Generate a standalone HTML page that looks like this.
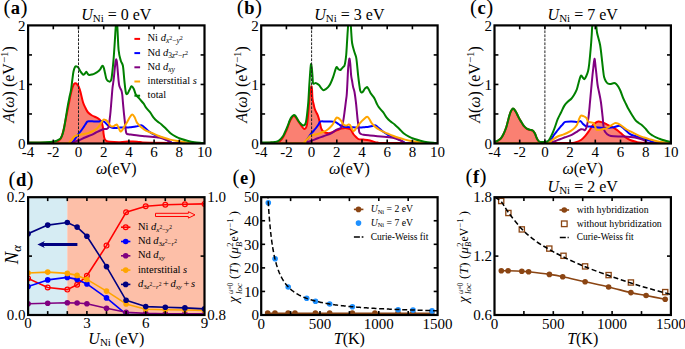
<!DOCTYPE html>
<html><head><meta charset="utf-8"><title>figure</title>
<style>html,body{margin:0;padding:0;background:#fff;}svg{display:block;}text{font-family:"Liberation Serif",serif;fill:#000;}</style>
</head><body>
<svg width="685" height="349" viewBox="0 0 685 349" font-family="Liberation Serif">
<rect width="685" height="349" fill="#fff"/>
<clipPath id="ct0"><rect x="28.1" y="25.4" width="176.4" height="118.1"/></clipPath>
<g clip-path="url(#ct0)">
<path d="M28.5,142.8 C30.42,142.78 36.42,142.77 40,142.7 C43.58,142.63 47.33,142.55 50,142.4 C52.67,142.25 54.5,142.12 56,141.8 C57.5,141.48 58.17,141.13 59,140.5 C59.83,139.87 60.33,139.42 61,138 C61.67,136.58 62.33,134.5 63,132 C63.67,129.5 64.33,126.17 65,123 C65.67,119.83 66.33,116.33 67,113 C67.67,109.67 68.33,106.33 69,103 C69.67,99.67 70.42,95.58 71,93 C71.58,90.42 72,89 72.5,87.5 C73,86 73.5,84.72 74,84 C74.5,83.28 75,83.17 75.5,83.2 C76,83.23 76.47,83.62 77,84.2 C77.53,84.78 78.12,85.4 78.7,86.7 C79.28,88 79.78,89.42 80.5,92 C81.22,94.58 82.17,99.53 83,102.2 C83.83,104.87 84.65,106.28 85.5,108 C86.35,109.72 87.02,111.25 88.1,112.5 C89.18,113.75 90.57,114.65 92,115.5 C93.43,116.35 95.45,116.93 96.7,117.6 C97.95,118.27 98.63,118.63 99.5,119.5 C100.37,120.37 101.32,121.38 101.9,122.8 C102.48,124.22 102.72,126.13 103,128 C103.28,129.87 103.35,132.25 103.6,134 C103.85,135.75 104.07,137.37 104.5,138.5 C104.93,139.63 105.28,140.25 106.2,140.8 C107.12,141.35 107.7,141.57 110,141.8 C112.3,142.03 117,142.23 120,142.2 C123,142.17 125.83,141.73 128,141.6 C130.17,141.47 131,141.33 133,141.4 C135,141.47 137.17,141.78 140,142 C142.83,142.22 139.33,142.53 150,142.7 C160.67,142.87 195,142.95 204,143 L204,143.5 L28.5,143.5 Z" fill="#fa8072" stroke="none"/>
<path d="M28.5,142.8 C30.42,142.78 36.42,142.77 40,142.7 C43.58,142.63 47.33,142.55 50,142.4 C52.67,142.25 54.5,142.12 56,141.8 C57.5,141.48 58.17,141.13 59,140.5 C59.83,139.87 60.33,139.42 61,138 C61.67,136.58 62.33,134.5 63,132 C63.67,129.5 64.33,126.17 65,123 C65.67,119.83 66.33,116.33 67,113 C67.67,109.67 68.33,106.33 69,103 C69.67,99.67 70.42,95.58 71,93 C71.58,90.42 72,89 72.5,87.5 C73,86 73.5,84.72 74,84 C74.5,83.28 75,83.17 75.5,83.2 C76,83.23 76.47,83.62 77,84.2 C77.53,84.78 78.12,85.4 78.7,86.7 C79.28,88 79.78,89.42 80.5,92 C81.22,94.58 82.17,99.53 83,102.2 C83.83,104.87 84.65,106.28 85.5,108 C86.35,109.72 87.02,111.25 88.1,112.5 C89.18,113.75 90.57,114.65 92,115.5 C93.43,116.35 95.45,116.93 96.7,117.6 C97.95,118.27 98.63,118.63 99.5,119.5 C100.37,120.37 101.32,121.38 101.9,122.8 C102.48,124.22 102.72,126.13 103,128 C103.28,129.87 103.35,132.25 103.6,134 C103.85,135.75 104.07,137.37 104.5,138.5 C104.93,139.63 105.28,140.25 106.2,140.8 C107.12,141.35 107.7,141.57 110,141.8 C112.3,142.03 117,142.23 120,142.2 C123,142.17 125.83,141.73 128,141.6 C130.17,141.47 131,141.33 133,141.4 C135,141.47 137.17,141.78 140,142 C142.83,142.22 139.33,142.53 150,142.7 C160.67,142.87 195,142.95 204,143" fill="none" stroke="#ff0000" stroke-width="2" stroke-linejoin="round" stroke-linecap="round" />
<path d="M28.5,143.3 C35.08,143.3 60.78,143.38 68,143.3 C75.22,143.22 70.8,143.27 71.8,142.8 C72.8,142.33 73,141.83 74,140.5 C75,139.17 76.72,136.3 77.8,134.8 C78.88,133.3 79.63,132.63 80.5,131.5 C81.37,130.37 82.2,129.17 83,128 C83.8,126.83 84.58,125.57 85.3,124.5 C86.02,123.43 86.52,122.13 87.3,121.6 C88.08,121.07 88.88,121.33 90,121.3 C91.12,121.27 92.6,121.38 94,121.4 C95.4,121.42 97.08,121.47 98.4,121.4 C99.72,121.33 100.88,120.9 101.9,121 C102.92,121.1 103.65,121.42 104.5,122 C105.35,122.58 106.17,123.75 107,124.5 C107.83,125.25 108.63,125.95 109.5,126.5 C110.37,127.05 111.12,127.55 112.2,127.8 C113.28,128.05 114.7,128.03 116,128 C117.3,127.97 118.13,127.67 120,127.6 C121.87,127.53 125.37,127.67 127.2,127.6 C129.03,127.53 129.57,127.37 131,127.2 C132.43,127.03 134.47,126.83 135.8,126.6 C137.13,126.37 138,126 139,125.8 C140,125.6 140.88,125.12 141.8,125.4 C142.72,125.68 143.5,126.65 144.5,127.5 C145.5,128.35 146.72,129.62 147.8,130.5 C148.88,131.38 149.85,132.08 151,132.8 C152.15,133.52 153.53,134.23 154.7,134.8 C155.87,135.37 156.87,135.77 158,136.2 C159.13,136.63 160.33,136.93 161.5,137.4 C162.67,137.87 163.85,138.43 165,139 C166.15,139.57 167.4,140.27 168.4,140.8 C169.4,141.33 170.13,141.83 171,142.2 C171.87,142.57 168.1,142.82 173.6,143 C179.1,143.18 198.93,143.25 204,143.3" fill="none" stroke="#0000ff" stroke-width="2" stroke-linejoin="round" stroke-linecap="round" />
<path d="M28.5,143.3 C35.42,143.28 62.63,143.3 70,143.2 C77.37,143.1 71.7,143.02 72.7,142.7 C73.7,142.38 74.87,141.75 76,141.3 C77.13,140.85 78,140.63 79.5,140 C81,139.37 82.98,138.37 85,137.5 C87.02,136.63 89.77,135.63 91.6,134.8 C93.43,133.97 94.28,133.35 96,132.5 C97.72,131.65 100.48,130.28 101.9,129.7 C103.32,129.12 103.65,129.15 104.5,129 C105.35,128.85 106.33,129.13 107,128.8 C107.67,128.47 108.07,128.47 108.5,127 C108.93,125.53 109.27,122.5 109.6,120 C109.93,117.5 110.18,115.33 110.5,112 C110.82,108.67 111.17,104 111.5,100 C111.83,96 112.15,91.33 112.5,88 C112.85,84.67 113.23,83.12 113.6,80 C113.97,76.88 114.38,72.3 114.7,69.3 C115.02,66.3 115.25,63.67 115.5,62 C115.75,60.33 115.97,59.3 116.2,59.3 C116.43,59.3 116.67,60.33 116.9,62 C117.13,63.67 117.32,66.17 117.6,69.3 C117.88,72.43 118.32,78.05 118.6,80.8 C118.88,83.55 119,84.52 119.3,85.8 C119.6,87.08 120.03,87.67 120.4,88.5 C120.77,89.33 121.18,89.72 121.5,90.8 C121.82,91.88 122.07,93.1 122.3,95 C122.53,96.9 122.65,99.37 122.9,102.2 C123.15,105.03 123.52,109.13 123.8,112 C124.08,114.87 124.33,116.9 124.6,119.4 C124.87,121.9 125.12,124.72 125.4,127 C125.68,129.28 125.78,131.88 126.3,133.1 C126.82,134.32 127.5,134.02 128.5,134.3 C129.5,134.58 130.72,134.58 132.3,134.8 C133.88,135.02 135.98,135.37 138,135.6 C140.02,135.83 142.23,136 144.4,136.2 C146.57,136.4 148.72,136.6 151,136.8 C153.28,137 156.27,137.17 158.1,137.4 C159.93,137.63 160.57,137.77 162,138.2 C163.43,138.63 165.37,139.43 166.7,140 C168.03,140.57 168.85,141.1 170,141.6 C171.15,142.1 167.93,142.72 173.6,143 C179.27,143.28 198.93,143.25 204,143.3" fill="none" stroke="#800080" stroke-width="2" stroke-linejoin="round" stroke-linecap="round" />
<path d="M28.5,143.3 C34.75,143.28 59.22,143.33 66,143.2 C72.78,143.07 68.28,143.03 69.2,142.5 C70.12,141.97 70.63,141 71.5,140 C72.37,139 73.48,137.28 74.4,136.5 C75.32,135.72 76.15,135.58 77,135.3 C77.85,135.02 78.33,135.02 79.5,134.8 C80.67,134.58 82.57,134.28 84,134 C85.43,133.72 86.77,133.52 88.1,133.1 C89.43,132.68 90.57,132.22 92,131.5 C93.43,130.78 95.45,129.8 96.7,128.8 C97.95,127.8 98.63,126.72 99.5,125.5 C100.37,124.28 101.22,122.48 101.9,121.5 C102.58,120.52 103,119.85 103.6,119.6 C104.2,119.35 104.93,119.77 105.5,120 C106.07,120.23 106.45,120.42 107,121 C107.55,121.58 108.22,122.67 108.8,123.5 C109.38,124.33 109.93,125.5 110.5,126 C111.07,126.5 111.63,126.47 112.2,126.5 C112.77,126.53 113.35,126.45 113.9,126.2 C114.45,125.95 115,125.27 115.5,125 C116,124.73 116.43,124.27 116.9,124.6 C117.37,124.93 117.73,125.9 118.3,127 C118.87,128.1 119.68,130.62 120.3,131.2 C120.92,131.78 121.38,131.2 122,130.5 C122.62,129.8 123.13,128.43 124,127 C124.87,125.57 126.2,123.57 127.2,121.9 C128.2,120.23 129.15,118.22 130,117 C130.85,115.78 131.55,114.6 132.3,114.6 C133.05,114.6 133.78,115.78 134.5,117 C135.22,118.22 135.88,120.6 136.6,121.9 C137.32,123.2 138.08,123.93 138.8,124.8 C139.52,125.67 140.03,126.35 140.9,127.1 C141.77,127.85 142.85,128.58 144,129.3 C145.15,130.02 146.47,130.78 147.8,131.4 C149.13,132.02 150.28,132.28 152,133 C153.72,133.72 156.1,134.9 158.1,135.7 C160.1,136.5 162,137.15 164,137.8 C166,138.45 168.1,139.1 170.1,139.6 C172.1,140.1 173.98,140.45 176,140.8 C178.02,141.15 180.53,141.43 182.2,141.7 C183.87,141.97 184.57,142.18 186,142.4 C187.43,142.62 187.8,142.85 190.8,143 C193.8,143.15 201.8,143.25 204,143.3" fill="none" stroke="#ffa500" stroke-width="2" stroke-linejoin="round" stroke-linecap="round" />
<path d="M28.5,142.6 C30.42,142.57 36.42,142.52 40,142.4 C43.58,142.28 47.67,142.07 50,141.9 C52.33,141.73 52.75,141.67 54,141.4 C55.25,141.13 56.4,140.82 57.5,140.3 C58.6,139.78 59.77,139.27 60.6,138.3 C61.43,137.33 61.92,136.22 62.5,134.5 C63.08,132.78 63.55,130.75 64.1,128 C64.65,125.25 65.23,121.45 65.8,118 C66.37,114.55 66.92,110.63 67.5,107.3 C68.08,103.97 68.72,100.85 69.3,98 C69.88,95.15 70.5,93.2 71,90.2 C71.5,87.2 71.88,83.12 72.3,80 C72.72,76.88 73.05,73.67 73.5,71.5 C73.95,69.33 74.48,67.85 75,67 C75.52,66.15 76.05,66.32 76.6,66.4 C77.15,66.48 77.65,66.65 78.3,67.5 C78.95,68.35 79.72,70.32 80.5,71.5 C81.28,72.68 82.28,74.22 83,74.6 C83.72,74.98 84.25,74.28 84.8,73.8 C85.35,73.32 85.8,71.67 86.3,71.7 C86.8,71.73 87.27,73.45 87.8,74 C88.33,74.55 88.8,74.92 89.5,75 C90.2,75.08 91.08,74.78 92,74.5 C92.92,74.22 94,73.8 95,73.3 C96,72.8 97.08,72.25 98,71.5 C98.92,70.75 99.78,69.75 100.5,68.8 C101.22,67.85 101.77,66.02 102.3,65.8 C102.83,65.58 103.25,66.3 103.7,67.5 C104.15,68.7 104.55,71.08 105,73 C105.45,74.92 105.9,77.67 106.4,79 C106.9,80.33 107.4,80.58 108,81 C108.6,81.42 109.42,81.88 110,81.5 C110.58,81.12 111.02,81.2 111.5,78.7 C111.98,76.2 112.5,70.45 112.9,66.5 C113.3,62.55 113.57,59.42 113.9,55 C114.23,50.58 114.58,44.83 114.9,40 C115.22,35.17 115.55,28.83 115.8,26 C116.05,23.17 116.15,23 116.4,23 C116.65,23 116.93,21.5 117.3,26 C117.67,30.5 118.02,44.22 118.6,50 C119.18,55.78 120.08,58.07 120.8,60.7 C121.52,63.33 122.3,62.45 122.9,65.8 C123.5,69.15 123.92,76.38 124.4,80.8 C124.88,85.22 125.33,90.1 125.8,92.3 C126.27,94.5 126.6,94.37 127.2,94 C127.8,93.63 128.68,91.38 129.4,90.1 C130.12,88.82 130.78,86.53 131.5,86.3 C132.22,86.07 132.98,87.35 133.7,88.7 C134.42,90.05 134.85,92.73 135.8,94.4 C136.75,96.07 138.08,97.15 139.4,98.7 C140.72,100.25 142.65,102.28 143.7,103.7 C144.75,105.12 144.65,105.78 145.7,107.2 C146.75,108.62 148.68,110.47 150,112.2 C151.32,113.93 152.4,116.08 153.6,117.6 C154.8,119.12 155.88,120.17 157.2,121.3 C158.52,122.43 159.95,123.08 161.5,124.4 C163.05,125.72 164.95,127.68 166.5,129.2 C168.05,130.72 169.25,132.27 170.8,133.5 C172.35,134.73 174.02,135.68 175.8,136.6 C177.58,137.52 179.58,138.32 181.5,139 C183.42,139.68 185.15,140.17 187.3,140.7 C189.45,141.23 192.02,141.82 194.4,142.2 C196.78,142.58 199.92,142.82 201.6,143 C203.28,143.18 204.02,143.25 204.5,143.3" fill="none" stroke="#008000" stroke-width="2" stroke-linejoin="round" stroke-linecap="round" />
<line x1="78.5" y1="26.4" x2="78.5" y2="143.5" stroke="#222" stroke-width="1" stroke-dasharray="2.7,1.3"/>
</g>
<line x1="53.3" y1="143.5" x2="53.3" y2="139.6" stroke="#000" stroke-width="1.6" />
<line x1="53.3" y1="25.4" x2="53.3" y2="29.3" stroke="#000" stroke-width="1.6" />
<line x1="78.5" y1="143.5" x2="78.5" y2="139.6" stroke="#000" stroke-width="1.6" />
<line x1="78.5" y1="25.4" x2="78.5" y2="29.3" stroke="#000" stroke-width="1.6" />
<line x1="103.7" y1="143.5" x2="103.7" y2="139.6" stroke="#000" stroke-width="1.6" />
<line x1="103.7" y1="25.4" x2="103.7" y2="29.3" stroke="#000" stroke-width="1.6" />
<line x1="128.9" y1="143.5" x2="128.9" y2="139.6" stroke="#000" stroke-width="1.6" />
<line x1="128.9" y1="25.4" x2="128.9" y2="29.3" stroke="#000" stroke-width="1.6" />
<line x1="154.1" y1="143.5" x2="154.1" y2="139.6" stroke="#000" stroke-width="1.6" />
<line x1="154.1" y1="25.4" x2="154.1" y2="29.3" stroke="#000" stroke-width="1.6" />
<line x1="179.3" y1="143.5" x2="179.3" y2="139.6" stroke="#000" stroke-width="1.6" />
<line x1="179.3" y1="25.4" x2="179.3" y2="29.3" stroke="#000" stroke-width="1.6" />
<line x1="28.1" y1="113.97" x2="32" y2="113.97" stroke="#000" stroke-width="1.6" />
<line x1="204.5" y1="113.97" x2="200.6" y2="113.97" stroke="#000" stroke-width="1.6" />
<line x1="28.1" y1="84.45" x2="32" y2="84.45" stroke="#000" stroke-width="1.6" />
<line x1="204.5" y1="84.45" x2="200.6" y2="84.45" stroke="#000" stroke-width="1.6" />
<line x1="28.1" y1="54.93" x2="32" y2="54.93" stroke="#000" stroke-width="1.6" />
<line x1="204.5" y1="54.93" x2="200.6" y2="54.93" stroke="#000" stroke-width="1.6" />
<rect x="28.1" y="25.4" width="176.4" height="118.1" fill="none" stroke="#000" stroke-width="2.2"/>
<text x="28.1" y="157" font-size="15" text-anchor="middle" >-4</text>
<text x="53.3" y="157" font-size="15" text-anchor="middle" >-2</text>
<text x="78.5" y="157" font-size="15" text-anchor="middle" >0</text>
<text x="103.7" y="157" font-size="15" text-anchor="middle" >2</text>
<text x="128.9" y="157" font-size="15" text-anchor="middle" >4</text>
<text x="154.1" y="157" font-size="15" text-anchor="middle" >6</text>
<text x="179.3" y="157" font-size="15" text-anchor="middle" >8</text>
<text x="204.5" y="157" font-size="15" text-anchor="middle" >10</text>
<text x="25.6" y="148.7" font-size="15" text-anchor="end" >0</text>
<text x="25.6" y="89.65" font-size="15" text-anchor="end" >1</text>
<text x="25.6" y="30.6" font-size="15" text-anchor="end" >2</text>
<text x="116.3" y="20.1" font-size="16" text-anchor="middle" ><tspan font-style="italic">U</tspan><tspan font-size="11" dy="2.3">Ni</tspan><tspan dy="-2.3"> = 0 eV</tspan></text>
<text x="116.3" y="173.5" font-size="16" text-anchor="middle" ><tspan font-style="italic">ω</tspan>(eV)</text>
<text transform="translate(13.9,84.45) rotate(-90)" font-size="16" text-anchor="middle"><tspan font-style="italic">A</tspan>(<tspan font-style="italic">ω</tspan>) (eV<tspan font-size="11" dy="-6">−1</tspan><tspan dy="6">)</tspan></text>
<text x="3.4" y="14.4" font-size="21" text-anchor="start" letter-spacing="0.4">(<tspan font-weight="bold" font-size="18.5">a</tspan>)</text>
<clipPath id="ct1"><rect x="261.2" y="25.4" width="176.4" height="118.1"/></clipPath>
<g clip-path="url(#ct1)">
<path d="M261.6,142.9 C263,142.88 267.27,142.92 270,142.8 C272.73,142.68 276,142.83 278,142.2 C280,141.57 280.53,141.08 282,139 C283.47,136.92 285.55,132.53 286.8,129.7 C288.05,126.87 288.65,124.02 289.5,122 C290.35,119.98 291.22,118.6 291.9,117.6 C292.58,116.6 293,116.1 293.6,116 C294.2,115.9 294.63,116.02 295.5,117 C296.37,117.98 297.8,120.4 298.8,121.9 C299.8,123.4 300.63,124.85 301.5,126 C302.37,127.15 303.28,128.47 304,128.8 C304.72,129.13 305.3,128.72 305.8,128 C306.3,127.28 306.63,126.5 307,124.5 C307.37,122.5 307.65,119.72 308,116 C308.35,112.28 308.77,106.03 309.1,102.2 C309.43,98.37 309.72,95.3 310,93 C310.28,90.7 310.55,89.53 310.8,88.4 C311.05,87.27 311.3,86.1 311.5,86.2 C311.7,86.3 311.83,86.92 312,89 C312.17,91.08 312.2,96.03 312.5,98.7 C312.8,101.37 313.37,103.13 313.8,105 C314.23,106.87 314.45,108.22 315.1,109.9 C315.75,111.58 316.97,113.25 317.7,115.1 C318.43,116.95 318.93,118.85 319.5,121 C320.07,123.15 320.55,126.33 321.1,128 C321.65,129.67 322.22,130.28 322.8,131 C323.38,131.72 323.9,131.98 324.6,132.3 C325.3,132.62 326.15,132.77 327,132.9 C327.85,133.03 328.53,133.33 329.7,133.1 C330.87,132.87 332.57,132.07 334,131.5 C335.43,130.93 337.05,130.18 338.3,129.7 C339.55,129.22 340.35,128.88 341.5,128.6 C342.65,128.32 344.08,128.02 345.2,128 C346.32,127.98 347.23,128.22 348.2,128.5 C349.17,128.78 350.15,128.78 351,129.7 C351.85,130.62 352.47,132.78 353.3,134 C354.13,135.22 355.13,136.15 356,137 C356.87,137.85 357.23,138.67 358.5,139.1 C359.77,139.53 361.88,139.4 363.6,139.6 C365.32,139.8 367.23,139.98 368.8,140.3 C370.37,140.62 371.57,141.12 373,141.5 C374.43,141.88 375.4,142.35 377.4,142.6 C379.4,142.85 374.98,142.9 385,143 C395.02,143.1 428.75,143.17 437.5,143.2 L437.5,143.5 L261.6,143.5 Z" fill="#fa8072" stroke="none"/>
<path d="M261.6,142.9 C263,142.88 267.27,142.92 270,142.8 C272.73,142.68 276,142.83 278,142.2 C280,141.57 280.53,141.08 282,139 C283.47,136.92 285.55,132.53 286.8,129.7 C288.05,126.87 288.65,124.02 289.5,122 C290.35,119.98 291.22,118.6 291.9,117.6 C292.58,116.6 293,116.1 293.6,116 C294.2,115.9 294.63,116.02 295.5,117 C296.37,117.98 297.8,120.4 298.8,121.9 C299.8,123.4 300.63,124.85 301.5,126 C302.37,127.15 303.28,128.47 304,128.8 C304.72,129.13 305.3,128.72 305.8,128 C306.3,127.28 306.63,126.5 307,124.5 C307.37,122.5 307.65,119.72 308,116 C308.35,112.28 308.77,106.03 309.1,102.2 C309.43,98.37 309.72,95.3 310,93 C310.28,90.7 310.55,89.53 310.8,88.4 C311.05,87.27 311.3,86.1 311.5,86.2 C311.7,86.3 311.83,86.92 312,89 C312.17,91.08 312.2,96.03 312.5,98.7 C312.8,101.37 313.37,103.13 313.8,105 C314.23,106.87 314.45,108.22 315.1,109.9 C315.75,111.58 316.97,113.25 317.7,115.1 C318.43,116.95 318.93,118.85 319.5,121 C320.07,123.15 320.55,126.33 321.1,128 C321.65,129.67 322.22,130.28 322.8,131 C323.38,131.72 323.9,131.98 324.6,132.3 C325.3,132.62 326.15,132.77 327,132.9 C327.85,133.03 328.53,133.33 329.7,133.1 C330.87,132.87 332.57,132.07 334,131.5 C335.43,130.93 337.05,130.18 338.3,129.7 C339.55,129.22 340.35,128.88 341.5,128.6 C342.65,128.32 344.08,128.02 345.2,128 C346.32,127.98 347.23,128.22 348.2,128.5 C349.17,128.78 350.15,128.78 351,129.7 C351.85,130.62 352.47,132.78 353.3,134 C354.13,135.22 355.13,136.15 356,137 C356.87,137.85 357.23,138.67 358.5,139.1 C359.77,139.53 361.88,139.4 363.6,139.6 C365.32,139.8 367.23,139.98 368.8,140.3 C370.37,140.62 371.57,141.12 373,141.5 C374.43,141.88 375.4,142.35 377.4,142.6 C379.4,142.85 374.98,142.9 385,143 C395.02,143.1 428.75,143.17 437.5,143.2" fill="none" stroke="#ff0000" stroke-width="2" stroke-linejoin="round" stroke-linecap="round" />
<path d="M261.6,143.3 C268.33,143.28 294.8,143.33 302,143.2 C309.2,143.07 303.88,143.2 304.8,142.5 C305.72,141.8 306.5,140.42 307.5,139 C308.5,137.58 309.8,135.33 310.8,134 C311.8,132.67 312.63,132 313.5,131 C314.37,130 315.2,129.03 316,128 C316.8,126.97 317.58,125.87 318.3,124.8 C319.02,123.73 319.18,122.15 320.3,121.6 C321.42,121.05 323.43,121.5 325,121.5 C326.57,121.5 328.05,121.53 329.7,121.6 C331.35,121.67 333.43,121.5 334.9,121.9 C336.37,122.3 337.35,123.28 338.5,124 C339.65,124.72 340.4,125.68 341.8,126.2 C343.2,126.72 345.03,126.92 346.9,127.1 C348.77,127.28 350.78,127.22 353,127.3 C355.22,127.38 358.28,127.62 360.2,127.6 C362.12,127.58 363.07,127.33 364.5,127.2 C365.93,127.07 367.47,127 368.8,126.8 C370.13,126.6 371.37,126.23 372.5,126 C373.63,125.77 374.6,125.1 375.6,125.4 C376.6,125.7 377.48,126.95 378.5,127.8 C379.52,128.65 380.67,129.67 381.7,130.5 C382.73,131.33 383.7,132.08 384.7,132.8 C385.7,133.52 386.65,134.23 387.7,134.8 C388.75,135.37 389.87,135.77 391,136.2 C392.13,136.63 393.33,136.93 394.5,137.4 C395.67,137.87 396.85,138.43 398,139 C399.15,139.57 400.4,140.27 401.4,140.8 C402.4,141.33 403.13,141.83 404,142.2 C404.87,142.57 401.02,142.82 406.6,143 C412.18,143.18 432.35,143.25 437.5,143.3" fill="none" stroke="#0000ff" stroke-width="2" stroke-linejoin="round" stroke-linecap="round" />
<path d="M261.6,143.3 C268.5,143.28 295.52,143.33 303,143.2 C310.48,143.07 305.17,142.87 306.5,142.5 C307.83,142.13 309.13,141.7 311,141 C312.87,140.3 315.62,139.1 317.7,138.3 C319.78,137.5 321.5,136.92 323.5,136.2 C325.5,135.48 328.03,134.73 329.7,134 C331.37,133.27 332.35,132.52 333.5,131.8 C334.65,131.08 335.37,130.33 336.6,129.7 C337.83,129.07 339.95,128.78 340.9,128 C341.85,127.22 341.87,126.43 342.3,125 C342.73,123.57 343.08,121.9 343.5,119.4 C343.92,116.9 344.38,113.15 344.8,110 C345.22,106.85 345.68,103 346,100.5 C346.32,98 346.48,97.58 346.7,95 C346.92,92.42 347.07,89.32 347.3,85 C347.53,80.68 347.85,72.93 348.1,69.1 C348.35,65.27 348.57,63.73 348.8,62 C349.03,60.27 349.25,58.37 349.5,58.7 C349.75,59.03 350.03,61.27 350.3,64 C350.57,66.73 350.8,72.27 351.1,75.1 C351.4,77.93 351.77,79.03 352.1,81 C352.43,82.97 352.7,85.07 353.1,86.9 C353.5,88.73 354.03,89.45 354.5,92 C354.97,94.55 355.52,99.03 355.9,102.2 C356.28,105.37 356.52,108.13 356.8,111 C357.08,113.87 357.32,116.9 357.6,119.4 C357.88,121.9 358.22,123.85 358.5,126 C358.78,128.15 358.88,130.97 359.3,132.3 C359.72,133.63 360.28,133.58 361,134 C361.72,134.42 362.1,134.55 363.6,134.8 C365.1,135.05 367.7,135.27 370,135.5 C372.3,135.73 375.07,135.98 377.4,136.2 C379.73,136.42 381.72,136.6 384,136.8 C386.28,137 389.18,137.12 391.1,137.4 C393.02,137.68 394.07,138.07 395.5,138.5 C396.93,138.93 398.45,139.48 399.7,140 C400.95,140.52 401.85,141.1 403,141.6 C404.15,142.1 400.85,142.72 406.6,143 C412.35,143.28 432.35,143.25 437.5,143.3" fill="none" stroke="#800080" stroke-width="2" stroke-linejoin="round" stroke-linecap="round" />
<path d="M261.6,143.3 C268.33,143.28 294.93,143.33 302,143.2 C309.07,143.07 303.08,143.2 304,142.5 C304.92,141.8 306.37,140.13 307.5,139 C308.63,137.87 309.72,136.4 310.8,135.7 C311.88,135 312.85,135.08 314,134.8 C315.15,134.52 316.37,134.42 317.7,134 C319.03,133.58 320.57,132.88 322,132.3 C323.43,131.72 324.97,131.3 326.3,130.5 C327.63,129.7 328.85,128.63 330,127.5 C331.15,126.37 332.37,124.95 333.2,123.7 C334.03,122.45 334.43,121.02 335,120 C335.57,118.98 336.05,117.93 336.6,117.6 C337.15,117.27 337.73,117.7 338.3,118 C338.87,118.3 339.42,118.77 340,119.4 C340.58,120.03 341.22,120.95 341.8,121.8 C342.38,122.65 342.93,123.88 343.5,124.5 C344.07,125.12 344.63,125.35 345.2,125.5 C345.77,125.65 346.35,125.57 346.9,125.4 C347.45,125.23 348,124.58 348.5,124.5 C349,124.42 349.38,124.32 349.9,124.9 C350.42,125.48 351.03,126.98 351.6,128 C352.17,129.02 352.73,130.67 353.3,131 C353.87,131.33 354.38,130.67 355,130 C355.62,129.33 356.13,128.2 357,127 C357.87,125.8 359.12,124.05 360.2,122.8 C361.28,121.55 362.35,120.5 363.5,119.5 C364.65,118.5 366.13,116.88 367.1,116.8 C368.07,116.72 368.58,118 369.3,119 C370.02,120 370.7,121.75 371.4,122.8 C372.1,123.85 372.8,124.58 373.5,125.3 C374.2,126.02 374.68,126.4 375.6,127.1 C376.52,127.8 377.85,128.78 379,129.5 C380.15,130.22 381.08,130.73 382.5,131.4 C383.92,132.07 385.78,132.78 387.5,133.5 C389.22,134.22 390.97,134.98 392.8,135.7 C394.63,136.42 396.48,137.15 398.5,137.8 C400.52,138.45 402.82,139.07 404.9,139.6 C406.98,140.13 409,140.6 411,141 C413,141.4 415.23,141.73 416.9,142 C418.57,142.27 419.57,142.43 421,142.6 C422.43,142.77 422.75,142.88 425.5,143 C428.25,143.12 435.5,143.25 437.5,143.3" fill="none" stroke="#ffa500" stroke-width="2" stroke-linejoin="round" stroke-linecap="round" />
<path d="M261.6,142.6 C263,142.57 267.82,142.5 270,142.4 C272.18,142.3 273.2,142.32 274.7,142 C276.2,141.68 277.57,141.55 279,140.5 C280.43,139.45 282.22,137.28 283.3,135.7 C284.38,134.12 284.78,132.58 285.5,131 C286.22,129.42 286.93,127.87 287.6,126.2 C288.27,124.53 288.92,122.43 289.5,121 C290.08,119.57 290.42,118.58 291.1,117.6 C291.78,116.62 292.87,115.37 293.6,115.1 C294.33,114.83 294.77,115.15 295.5,116 C296.23,116.85 297.17,118.95 298,120.2 C298.83,121.45 299.65,122.63 300.5,123.5 C301.35,124.37 302.35,125.23 303.1,125.4 C303.85,125.57 304.52,125.08 305,124.5 C305.48,123.92 305.67,123.48 306,121.9 C306.33,120.32 306.62,118.28 307,115 C307.38,111.72 307.92,107.2 308.3,102.2 C308.68,97.2 308.98,90.03 309.3,85 C309.62,79.97 309.92,75.48 310.2,72 C310.48,68.52 310.73,64.77 311,64.1 C311.27,63.43 311.55,66.02 311.8,68 C312.05,69.98 312.3,73.48 312.5,76 C312.7,78.52 312.67,81.85 313,83.1 C313.33,84.35 314,83.5 314.5,83.5 C315,83.5 315.25,82.83 316,83.1 C316.75,83.37 318.17,84.32 319,85.1 C319.83,85.88 320.32,86.97 321,87.8 C321.68,88.63 322.35,89.85 323.1,90.1 C323.85,90.35 324.67,89.8 325.5,89.3 C326.33,88.8 327.27,88.07 328.1,87.1 C328.93,86.13 329.67,85.17 330.5,83.5 C331.33,81.83 332.35,79.18 333.1,77.1 C333.85,75.02 334.43,72.67 335,71 C335.57,69.33 335.95,67.43 336.5,67.1 C337.05,66.77 337.7,68.5 338.3,69 C338.9,69.5 339.55,70.13 340.1,70.1 C340.65,70.07 341.1,69.3 341.6,68.8 C342.1,68.3 342.65,67.57 343.1,67.1 C343.55,66.63 343.97,66.67 344.3,66 C344.63,65.33 344.78,64.93 345.1,63.1 C345.42,61.27 345.87,58.68 346.2,55 C346.53,51.32 346.83,45.17 347.1,41 C347.37,36.83 347.57,33 347.8,30 C348.03,27 348.05,24.17 348.5,23 C348.95,21.83 350.03,21.33 350.5,23 C350.97,24.67 351.03,29.67 351.3,33 C351.57,36.33 351.63,40 352.1,43 C352.57,46 353.43,48.65 354.1,51 C354.77,53.35 355.62,54.93 356.1,57.1 C356.58,59.27 356.67,61 357,64 C357.33,67 357.73,71.77 358.1,75.1 C358.47,78.43 358.85,81.43 359.2,84 C359.55,86.57 359.82,89.08 360.2,90.5 C360.58,91.92 361.02,92.33 361.5,92.5 C361.98,92.67 362.52,92.17 363.1,91.5 C363.68,90.83 364.48,89.15 365,88.5 C365.52,87.85 365.83,87.83 366.2,87.6 C366.57,87.37 366.77,86.78 367.2,87.1 C367.63,87.42 368.25,88.52 368.8,89.5 C369.35,90.48 369.93,92.03 370.5,93 C371.07,93.97 371.53,94.38 372.2,95.3 C372.87,96.22 373.73,97.1 374.5,98.5 C375.27,99.9 376.08,102.25 376.8,103.7 C377.52,105.15 377.75,105.78 378.8,107.2 C379.85,108.62 381.78,110.47 383.1,112.2 C384.42,113.93 385.5,116.08 386.7,117.6 C387.9,119.12 388.98,120.17 390.3,121.3 C391.62,122.43 393.05,123.08 394.6,124.4 C396.15,125.72 398.05,127.68 399.6,129.2 C401.15,130.72 402.35,132.27 403.9,133.5 C405.45,134.73 407.12,135.68 408.9,136.6 C410.68,137.52 412.68,138.32 414.6,139 C416.52,139.68 418.25,140.17 420.4,140.7 C422.55,141.23 425.12,141.82 427.5,142.2 C429.88,142.58 433.02,142.82 434.7,143 C436.38,143.18 437.12,143.25 437.6,143.3" fill="none" stroke="#008000" stroke-width="2" stroke-linejoin="round" stroke-linecap="round" />
<line x1="311.6" y1="26.4" x2="311.6" y2="143.5" stroke="#222" stroke-width="1" stroke-dasharray="2.7,1.3"/>
</g>
<line x1="286.4" y1="143.5" x2="286.4" y2="139.6" stroke="#000" stroke-width="1.6" />
<line x1="286.4" y1="25.4" x2="286.4" y2="29.3" stroke="#000" stroke-width="1.6" />
<line x1="311.6" y1="143.5" x2="311.6" y2="139.6" stroke="#000" stroke-width="1.6" />
<line x1="311.6" y1="25.4" x2="311.6" y2="29.3" stroke="#000" stroke-width="1.6" />
<line x1="336.8" y1="143.5" x2="336.8" y2="139.6" stroke="#000" stroke-width="1.6" />
<line x1="336.8" y1="25.4" x2="336.8" y2="29.3" stroke="#000" stroke-width="1.6" />
<line x1="362" y1="143.5" x2="362" y2="139.6" stroke="#000" stroke-width="1.6" />
<line x1="362" y1="25.4" x2="362" y2="29.3" stroke="#000" stroke-width="1.6" />
<line x1="387.2" y1="143.5" x2="387.2" y2="139.6" stroke="#000" stroke-width="1.6" />
<line x1="387.2" y1="25.4" x2="387.2" y2="29.3" stroke="#000" stroke-width="1.6" />
<line x1="412.4" y1="143.5" x2="412.4" y2="139.6" stroke="#000" stroke-width="1.6" />
<line x1="412.4" y1="25.4" x2="412.4" y2="29.3" stroke="#000" stroke-width="1.6" />
<line x1="261.2" y1="113.97" x2="265.1" y2="113.97" stroke="#000" stroke-width="1.6" />
<line x1="437.6" y1="113.97" x2="433.7" y2="113.97" stroke="#000" stroke-width="1.6" />
<line x1="261.2" y1="84.45" x2="265.1" y2="84.45" stroke="#000" stroke-width="1.6" />
<line x1="437.6" y1="84.45" x2="433.7" y2="84.45" stroke="#000" stroke-width="1.6" />
<line x1="261.2" y1="54.93" x2="265.1" y2="54.93" stroke="#000" stroke-width="1.6" />
<line x1="437.6" y1="54.93" x2="433.7" y2="54.93" stroke="#000" stroke-width="1.6" />
<rect x="261.2" y="25.4" width="176.4" height="118.1" fill="none" stroke="#000" stroke-width="2.2"/>
<text x="261.2" y="157" font-size="15" text-anchor="middle" >-4</text>
<text x="286.4" y="157" font-size="15" text-anchor="middle" >-2</text>
<text x="311.6" y="157" font-size="15" text-anchor="middle" >0</text>
<text x="336.8" y="157" font-size="15" text-anchor="middle" >2</text>
<text x="362" y="157" font-size="15" text-anchor="middle" >4</text>
<text x="387.2" y="157" font-size="15" text-anchor="middle" >6</text>
<text x="412.4" y="157" font-size="15" text-anchor="middle" >8</text>
<text x="437.6" y="157" font-size="15" text-anchor="middle" >10</text>
<text x="258.7" y="148.7" font-size="15" text-anchor="end" >0</text>
<text x="258.7" y="89.65" font-size="15" text-anchor="end" >1</text>
<text x="258.7" y="30.6" font-size="15" text-anchor="end" >2</text>
<text x="349.4" y="20.1" font-size="16" text-anchor="middle" ><tspan font-style="italic">U</tspan><tspan font-size="11" dy="2.3">Ni</tspan><tspan dy="-2.3"> = 3 eV</tspan></text>
<text x="349.4" y="173.5" font-size="16" text-anchor="middle" ><tspan font-style="italic">ω</tspan>(eV)</text>
<text transform="translate(247,84.45) rotate(-90)" font-size="16" text-anchor="middle"><tspan font-style="italic">A</tspan>(<tspan font-style="italic">ω</tspan>) (eV<tspan font-size="11" dy="-6">−1</tspan><tspan dy="6">)</tspan></text>
<text x="236.8" y="14.4" font-size="21" text-anchor="start" letter-spacing="0.4">(<tspan font-weight="bold" font-size="18.5">b</tspan>)</text>
<clipPath id="ct2"><rect x="494.5" y="25.4" width="176.4" height="118.1"/></clipPath>
<g clip-path="url(#ct2)">
<path d="M494.9,141.9 C495.33,141.75 496.5,141.57 497.5,141 C498.5,140.43 499.9,139.63 500.9,138.5 C501.9,137.37 502.65,135.92 503.5,134.2 C504.35,132.48 505.28,130.28 506,128.2 C506.72,126.12 507.22,123.85 507.8,121.7 C508.38,119.55 508.97,117.05 509.5,115.3 C510.03,113.55 510.43,112.3 511,111.2 C511.57,110.1 512.3,108.9 512.9,108.7 C513.5,108.5 514.03,109.33 514.6,110 C515.17,110.67 515.73,111.67 516.3,112.7 C516.87,113.73 517.42,115.05 518,116.2 C518.58,117.35 519.13,118.43 519.8,119.6 C520.47,120.77 521.28,122.07 522,123.2 C522.72,124.33 523.38,125.53 524.1,126.4 C524.82,127.27 525.58,127.88 526.3,128.4 C527.02,128.92 527.7,129.22 528.4,129.5 C529.1,129.78 529.78,129.9 530.5,130.1 C531.22,130.3 532.12,130.35 532.7,130.7 C533.28,131.05 533.58,131.62 534,132.2 C534.42,132.78 534.78,133.28 535.2,134.2 C535.62,135.12 536.07,136.7 536.5,137.7 C536.93,138.7 537.3,139.48 537.8,140.2 C538.3,140.92 538.8,141.57 539.5,142 C540.2,142.43 540.25,142.63 542,142.8 C543.75,142.97 545.33,142.97 550,143 C554.67,143.03 565.8,143.1 570,143 C574.2,142.9 573.37,142.9 575.2,142.4 C577.03,141.9 579.25,141.17 581,140 C582.75,138.83 584.33,136.95 585.7,135.4 C587.07,133.85 588.13,132.27 589.2,130.7 C590.27,129.13 591.13,127.27 592.1,126 C593.07,124.73 593.93,123.83 595,123.1 C596.07,122.37 597.33,121.73 598.5,121.6 C599.67,121.47 600.63,121.85 602,122.3 C603.37,122.75 604.93,123.48 606.7,124.3 C608.47,125.12 610.85,126.23 612.6,127.2 C614.35,128.17 615.85,129.13 617.2,130.1 C618.55,131.07 619.33,131.83 620.7,133 C622.07,134.17 623.83,135.93 625.4,137.1 C626.97,138.27 628.35,139.22 630.1,140 C631.85,140.78 633.92,141.33 635.9,141.8 C637.88,142.27 636.23,142.57 642,142.8 C647.77,143.03 665.75,143.13 670.5,143.2 L670.5,143.5 L494.9,143.5 Z" fill="#fa8072" stroke="none"/>
<path d="M494.9,141.9 C495.33,141.75 496.5,141.57 497.5,141 C498.5,140.43 499.9,139.63 500.9,138.5 C501.9,137.37 502.65,135.92 503.5,134.2 C504.35,132.48 505.28,130.28 506,128.2 C506.72,126.12 507.22,123.85 507.8,121.7 C508.38,119.55 508.97,117.05 509.5,115.3 C510.03,113.55 510.43,112.3 511,111.2 C511.57,110.1 512.3,108.9 512.9,108.7 C513.5,108.5 514.03,109.33 514.6,110 C515.17,110.67 515.73,111.67 516.3,112.7 C516.87,113.73 517.42,115.05 518,116.2 C518.58,117.35 519.13,118.43 519.8,119.6 C520.47,120.77 521.28,122.07 522,123.2 C522.72,124.33 523.38,125.53 524.1,126.4 C524.82,127.27 525.58,127.88 526.3,128.4 C527.02,128.92 527.7,129.22 528.4,129.5 C529.1,129.78 529.78,129.9 530.5,130.1 C531.22,130.3 532.12,130.35 532.7,130.7 C533.28,131.05 533.58,131.62 534,132.2 C534.42,132.78 534.78,133.28 535.2,134.2 C535.62,135.12 536.07,136.7 536.5,137.7 C536.93,138.7 537.3,139.48 537.8,140.2 C538.3,140.92 538.8,141.57 539.5,142 C540.2,142.43 540.25,142.63 542,142.8 C543.75,142.97 545.33,142.97 550,143 C554.67,143.03 565.8,143.1 570,143 C574.2,142.9 573.37,142.9 575.2,142.4 C577.03,141.9 579.25,141.17 581,140 C582.75,138.83 584.33,136.95 585.7,135.4 C587.07,133.85 588.13,132.27 589.2,130.7 C590.27,129.13 591.13,127.27 592.1,126 C593.07,124.73 593.93,123.83 595,123.1 C596.07,122.37 597.33,121.73 598.5,121.6 C599.67,121.47 600.63,121.85 602,122.3 C603.37,122.75 604.93,123.48 606.7,124.3 C608.47,125.12 610.85,126.23 612.6,127.2 C614.35,128.17 615.85,129.13 617.2,130.1 C618.55,131.07 619.33,131.83 620.7,133 C622.07,134.17 623.83,135.93 625.4,137.1 C626.97,138.27 628.35,139.22 630.1,140 C631.85,140.78 633.92,141.33 635.9,141.8 C637.88,142.27 636.23,142.57 642,142.8 C647.77,143.03 665.75,143.13 670.5,143.2" fill="none" stroke="#ff0000" stroke-width="2" stroke-linejoin="round" stroke-linecap="round" />
<path d="M494.9,143.3 C503.42,143.28 536.98,143.32 546,143.2 C555.02,143.08 548.08,143.3 549,142.6 C549.92,141.9 550.65,140.3 551.5,139 C552.35,137.7 553.18,136.13 554.1,134.8 C555.02,133.47 555.98,132.28 557,131 C558.02,129.72 559.32,128.12 560.2,127.1 C561.08,126.08 561.45,125.77 562.3,124.9 C563.15,124.03 563.73,122.48 565.3,121.9 C566.87,121.32 569.67,121.4 571.7,121.4 C573.73,121.4 576.05,121.95 577.5,121.9 C578.95,121.85 579.52,120.8 580.4,121.1 C581.28,121.4 581.92,122.88 582.8,123.7 C583.68,124.52 584.43,125.52 585.7,126 C586.97,126.48 588.27,126.37 590.4,126.6 C592.53,126.83 595.78,127.15 598.5,127.4 C601.22,127.65 604.17,128.13 606.7,128.1 C609.23,128.07 611.55,127.58 613.7,127.2 C615.85,126.82 617.85,125.52 619.6,125.8 C621.35,126.08 622.45,127.5 624.2,128.9 C625.95,130.3 628.15,132.97 630.1,134.2 C632.05,135.43 633.87,135.62 635.9,136.3 C637.93,136.98 640.37,137.68 642.3,138.3 C644.23,138.92 645.78,139.43 647.5,140 C649.22,140.57 651.18,141.28 652.6,141.7 C654.02,142.12 654.85,142.28 656,142.5 C657.15,142.72 657.08,142.87 659.5,143 C661.92,143.13 668.67,143.25 670.5,143.3" fill="none" stroke="#0000ff" stroke-width="2" stroke-linejoin="round" stroke-linecap="round" />
<path d="M494.9,143.3 C503.42,143.28 536.98,143.28 546,143.2 C555.02,143.12 547.5,143.13 549,142.8 C550.5,142.47 553.17,141.8 555,141.2 C556.83,140.6 558.33,139.85 560,139.2 C561.67,138.55 563.05,138.03 565,137.3 C566.95,136.57 569.62,135.8 571.7,134.8 C573.78,133.8 575.95,132.22 577.5,131.3 C579.05,130.38 580.02,129.6 581,129.3 C581.98,129 582.72,129.37 583.4,129.5 C584.08,129.63 584.52,130.68 585.1,130.1 C585.68,129.52 586.32,128.23 586.9,126 C587.48,123.77 588.08,120.7 588.6,116.7 C589.12,112.7 589.58,106.45 590,102 C590.42,97.55 590.68,94.5 591.1,90 C591.52,85.5 592.13,78.67 592.5,75 C592.87,71.33 592.97,70.72 593.3,68 C593.63,65.28 594.12,58.87 594.5,58.7 C594.88,58.53 595.3,64.6 595.6,67 C595.9,69.4 595.97,70.1 596.3,73.1 C596.63,76.1 597.15,81.85 597.6,85 C598.05,88.15 598.45,89.17 599,92 C599.55,94.83 600.3,97.88 600.9,102 C601.5,106.12 602.12,112.3 602.6,116.7 C603.08,121.1 603.3,125.77 603.8,128.4 C604.3,131.03 604.72,131.33 605.6,132.5 C606.48,133.67 607.75,134.77 609.1,135.4 C610.45,136.03 611.18,136.12 613.7,136.3 C616.22,136.48 620.68,136.3 624.2,136.5 C627.72,136.7 631.78,136.98 634.8,137.5 C637.82,138.02 640.43,138.97 642.3,139.6 C644.17,140.23 644.85,140.73 646,141.3 C647.15,141.87 645.12,142.67 649.2,143 C653.28,143.33 666.95,143.25 670.5,143.3" fill="none" stroke="#800080" stroke-width="2" stroke-linejoin="round" stroke-linecap="round" />
<path d="M494.9,143.3 C503.42,143.28 536.98,143.32 546,143.2 C555.02,143.08 547.83,143.22 549,142.6 C550.17,141.98 551.57,140.52 553,139.5 C554.43,138.48 556.1,137.25 557.6,136.5 C559.1,135.75 560.43,135.58 562,135 C563.57,134.42 565.2,133.92 567,133 C568.8,132.08 571.15,130.85 572.8,129.5 C574.45,128.15 575.82,126.75 576.9,124.9 C577.98,123.05 578.62,119.93 579.3,118.4 C579.98,116.87 580.32,116.08 581,115.7 C581.68,115.32 582.52,115.75 583.4,116.1 C584.28,116.45 585.53,116.92 586.3,117.8 C587.07,118.68 587.32,120.65 588,121.4 C588.68,122.15 589.52,122.07 590.4,122.3 C591.28,122.53 592.53,122.18 593.3,122.8 C594.07,123.42 594.52,124.88 595,126 C595.48,127.12 595.62,128.82 596.2,129.5 C596.78,130.18 597.53,130.13 598.5,130.1 C599.47,130.07 600.63,129.63 602,129.3 C603.37,128.97 605.33,128.65 606.7,128.1 C608.07,127.55 608.83,126.83 610.2,126 C611.57,125.17 613.53,123.48 614.9,123.1 C616.27,122.72 617.23,123.22 618.4,123.7 C619.57,124.18 620.53,125.03 621.9,126 C623.27,126.97 624.85,128.43 626.6,129.5 C628.35,130.57 630.35,131.37 632.4,132.4 C634.45,133.43 636.97,134.85 638.9,135.7 C640.83,136.55 642.28,136.93 644,137.5 C645.72,138.07 647.53,138.6 649.2,139.1 C650.87,139.6 652.28,140.07 654,140.5 C655.72,140.93 657.83,141.4 659.5,141.7 C661.17,142 662.17,142.15 664,142.3 C665.83,142.45 669.42,142.55 670.5,142.6" fill="none" stroke="#ffa500" stroke-width="2" stroke-linejoin="round" stroke-linecap="round" />
<path d="M494.9,141.7 C495.33,141.55 496.5,141.37 497.5,140.8 C498.5,140.23 499.9,139.43 500.9,138.3 C501.9,137.17 502.65,135.72 503.5,134 C504.35,132.28 505.28,130.08 506,128 C506.72,125.92 507.22,123.65 507.8,121.5 C508.38,119.35 508.97,116.85 509.5,115.1 C510.03,113.35 510.43,112.1 511,111 C511.57,109.9 512.3,108.7 512.9,108.5 C513.5,108.3 514.03,109.13 514.6,109.8 C515.17,110.47 515.73,111.47 516.3,112.5 C516.87,113.53 517.42,114.85 518,116 C518.58,117.15 519.13,118.23 519.8,119.4 C520.47,120.57 521.28,121.87 522,123 C522.72,124.13 523.38,125.33 524.1,126.2 C524.82,127.07 525.58,127.68 526.3,128.2 C527.02,128.72 527.7,129.02 528.4,129.3 C529.1,129.58 529.78,129.7 530.5,129.9 C531.22,130.1 532.12,130.15 532.7,130.5 C533.28,130.85 533.58,131.42 534,132 C534.42,132.58 534.78,133.08 535.2,134 C535.62,134.92 536.07,136.5 536.5,137.5 C536.93,138.5 537.3,139.3 537.8,140 C538.3,140.7 538.8,141.37 539.5,141.7 C540.2,142.03 541.08,141.95 542,142 C542.92,142.05 544.12,142.08 545,142 C545.88,141.92 546.63,141.83 547.3,141.5 C547.97,141.17 548.38,140.83 549,140 C549.62,139.17 550.28,137.93 551,136.5 C551.72,135.07 552.55,133.23 553.3,131.4 C554.05,129.57 554.78,127.5 555.5,125.5 C556.22,123.5 556.68,121.57 557.6,119.4 C558.52,117.23 559.87,114.8 561,112.5 C562.13,110.2 563.23,107.43 564.4,105.6 C565.57,103.77 566.85,102.65 568,101.5 C569.15,100.35 570.3,99.78 571.3,98.7 C572.3,97.62 573.13,96.42 574,95 C574.87,93.58 575.83,91.85 576.5,90.2 C577.17,88.55 577.5,86.88 578,85.1 C578.5,83.32 579,81.1 579.5,79.5 C580,77.9 580.47,75.83 581,75.5 C581.53,75.17 582.13,76.9 582.7,77.5 C583.27,78.1 583.8,79.35 584.4,79.1 C585,78.85 585.68,77.33 586.3,76 C586.92,74.67 587.62,73.1 588.1,71.1 C588.58,69.1 588.87,66.67 589.2,64 C589.53,61.33 589.8,58.27 590.1,55.1 C590.4,51.93 590.73,48.35 591,45 C591.27,41.65 591.42,38.67 591.7,35 C591.98,31.33 592.03,25 592.7,23 C593.37,21 594.97,21.33 595.7,23 C596.43,24.67 596.37,29.33 597.1,33 C597.83,36.67 599.27,40.32 600.1,45 C600.93,49.68 601.6,56.93 602.1,61.1 C602.6,65.27 602.77,67.33 603.1,70 C603.43,72.67 603.62,75.18 604.1,77.1 C604.58,79.02 605.33,80.4 606,81.5 C606.67,82.6 607.27,83.3 608.1,83.7 C608.93,84.1 610,84 611,83.9 C612,83.8 613.23,83.08 614.1,83.1 C614.97,83.12 615.52,83.43 616.2,84 C616.88,84.57 617.48,85.33 618.2,86.5 C618.92,87.67 619.63,88.97 620.5,91 C621.37,93.03 622.48,96.53 623.4,98.7 C624.32,100.87 625.15,102.27 626,104 C626.85,105.73 627.5,107.27 628.5,109.1 C629.5,110.93 630.85,113.15 632,115 C633.15,116.85 634.27,118.87 635.4,120.2 C636.53,121.53 637.65,122.13 638.8,123 C639.95,123.87 641.13,124.4 642.3,125.4 C643.47,126.4 644.65,127.72 645.8,129 C646.95,130.28 648.07,132.02 649.2,133.1 C650.33,134.18 651.47,134.78 652.6,135.5 C653.73,136.22 654.85,136.85 656,137.4 C657.15,137.95 658.35,138.37 659.5,138.8 C660.65,139.23 661.77,139.63 662.9,140 C664.03,140.37 665.03,140.7 666.3,141 C667.57,141.3 669.8,141.67 670.5,141.8" fill="none" stroke="#008000" stroke-width="2" stroke-linejoin="round" stroke-linecap="round" />
<line x1="544.9" y1="26.4" x2="544.9" y2="143.5" stroke="#222" stroke-width="1" stroke-dasharray="2.7,1.3"/>
</g>
<line x1="519.7" y1="143.5" x2="519.7" y2="139.6" stroke="#000" stroke-width="1.6" />
<line x1="519.7" y1="25.4" x2="519.7" y2="29.3" stroke="#000" stroke-width="1.6" />
<line x1="544.9" y1="143.5" x2="544.9" y2="139.6" stroke="#000" stroke-width="1.6" />
<line x1="544.9" y1="25.4" x2="544.9" y2="29.3" stroke="#000" stroke-width="1.6" />
<line x1="570.1" y1="143.5" x2="570.1" y2="139.6" stroke="#000" stroke-width="1.6" />
<line x1="570.1" y1="25.4" x2="570.1" y2="29.3" stroke="#000" stroke-width="1.6" />
<line x1="595.3" y1="143.5" x2="595.3" y2="139.6" stroke="#000" stroke-width="1.6" />
<line x1="595.3" y1="25.4" x2="595.3" y2="29.3" stroke="#000" stroke-width="1.6" />
<line x1="620.5" y1="143.5" x2="620.5" y2="139.6" stroke="#000" stroke-width="1.6" />
<line x1="620.5" y1="25.4" x2="620.5" y2="29.3" stroke="#000" stroke-width="1.6" />
<line x1="645.7" y1="143.5" x2="645.7" y2="139.6" stroke="#000" stroke-width="1.6" />
<line x1="645.7" y1="25.4" x2="645.7" y2="29.3" stroke="#000" stroke-width="1.6" />
<line x1="494.5" y1="113.97" x2="498.4" y2="113.97" stroke="#000" stroke-width="1.6" />
<line x1="670.9" y1="113.97" x2="667" y2="113.97" stroke="#000" stroke-width="1.6" />
<line x1="494.5" y1="84.45" x2="498.4" y2="84.45" stroke="#000" stroke-width="1.6" />
<line x1="670.9" y1="84.45" x2="667" y2="84.45" stroke="#000" stroke-width="1.6" />
<line x1="494.5" y1="54.93" x2="498.4" y2="54.93" stroke="#000" stroke-width="1.6" />
<line x1="670.9" y1="54.93" x2="667" y2="54.93" stroke="#000" stroke-width="1.6" />
<rect x="494.5" y="25.4" width="176.4" height="118.1" fill="none" stroke="#000" stroke-width="2.2"/>
<text x="494.5" y="157" font-size="15" text-anchor="middle" >-4</text>
<text x="519.7" y="157" font-size="15" text-anchor="middle" >-2</text>
<text x="544.9" y="157" font-size="15" text-anchor="middle" >0</text>
<text x="570.1" y="157" font-size="15" text-anchor="middle" >2</text>
<text x="595.3" y="157" font-size="15" text-anchor="middle" >4</text>
<text x="620.5" y="157" font-size="15" text-anchor="middle" >6</text>
<text x="645.7" y="157" font-size="15" text-anchor="middle" >8</text>
<text x="670.9" y="157" font-size="15" text-anchor="middle" >10</text>
<text x="492" y="148.7" font-size="15" text-anchor="end" >0</text>
<text x="492" y="89.65" font-size="15" text-anchor="end" >1</text>
<text x="492" y="30.6" font-size="15" text-anchor="end" >2</text>
<text x="582.7" y="20.1" font-size="16" text-anchor="middle" ><tspan font-style="italic">U</tspan><tspan font-size="11" dy="2.3">Ni</tspan><tspan dy="-2.3"> = 7 eV</tspan></text>
<text x="582.7" y="173.5" font-size="16" text-anchor="middle" ><tspan font-style="italic">ω</tspan>(eV)</text>
<text transform="translate(480.3,84.45) rotate(-90)" font-size="16" text-anchor="middle"><tspan font-style="italic">A</tspan>(<tspan font-style="italic">ω</tspan>) (eV<tspan font-size="11" dy="-6">−1</tspan><tspan dy="6">)</tspan></text>
<text x="470.1" y="14.4" font-size="21" text-anchor="start" letter-spacing="0.4">(<tspan font-weight="bold" font-size="18.5">c</tspan>)</text>
<line x1="134.4" y1="38.9" x2="140.1" y2="38.9" stroke="#ff0000" stroke-width="2" />
<text x="147.5" y="41.4" font-size="10.5" text-anchor="start" >Ni <tspan font-style="italic">d</tspan><tspan font-size="7.5" dy="2" font-style="italic">x</tspan><tspan font-size="6" dy="-3">2</tspan><tspan font-size="7.5" dy="3">−</tspan><tspan font-size="7.5" font-style="italic">y</tspan><tspan font-size="6" dy="-3">2</tspan></text>
<line x1="134.4" y1="53.1" x2="140.1" y2="53.1" stroke="#0000ff" stroke-width="2" />
<text x="147.5" y="55.6" font-size="10.5" text-anchor="start" >Nd <tspan font-style="italic">d</tspan><tspan font-size="7.5" dy="2">3</tspan><tspan font-size="7.5" font-style="italic">z</tspan><tspan font-size="6" dy="-3">2</tspan><tspan font-size="7.5" dy="3">−</tspan><tspan font-size="7.5" font-style="italic">r</tspan><tspan font-size="6" dy="-3">2</tspan></text>
<line x1="134.4" y1="67.3" x2="140.1" y2="67.3" stroke="#800080" stroke-width="2" />
<text x="147.5" y="69.8" font-size="10.5" text-anchor="start" >Nd <tspan font-style="italic">d</tspan><tspan font-size="7.5" dy="2" font-style="italic">xy</tspan></text>
<line x1="134.4" y1="81.5" x2="140.1" y2="81.5" stroke="#ffa500" stroke-width="2" />
<text x="147.5" y="84" font-size="10.5" text-anchor="start" >interstitial <tspan font-style="italic">s</tspan></text>
<line x1="134.4" y1="95.7" x2="140.1" y2="95.7" stroke="#008000" stroke-width="2" />
<text x="147.5" y="98.2" font-size="10.5" text-anchor="start" >total</text>
<rect x="28.1" y="197.2" width="39.2" height="117.8" fill="#d6ecf3"/>
<rect x="67.3" y="197.2" width="137.2" height="117.8" fill="#fdbfa8"/>
<clipPath id="cd"><rect x="28.1" y="197.2" width="176.4" height="117.8"/></clipPath>
<g clip-path="url(#cd)">
<polyline points="28.1,278.4 47.7,287.5 67.3,289.6 77.1,284.8 86.9,275.7 106.5,245.6 126.1,212.3 145.7,206.2 165.3,204.8 184.9,204.2 204.5,203.9" fill="none" stroke="#ff0000" stroke-width="1.6" stroke-linejoin="round"/>
<circle cx="28.1" cy="278.4" r="2.4" fill="none" stroke="#ff0000" stroke-width="1.2"/>
<circle cx="47.7" cy="287.5" r="2.4" fill="none" stroke="#ff0000" stroke-width="1.2"/>
<circle cx="67.3" cy="289.6" r="2.4" fill="none" stroke="#ff0000" stroke-width="1.2"/>
<circle cx="77.1" cy="284.8" r="2.4" fill="none" stroke="#ff0000" stroke-width="1.2"/>
<circle cx="86.9" cy="275.7" r="2.4" fill="none" stroke="#ff0000" stroke-width="1.2"/>
<circle cx="106.5" cy="245.6" r="2.4" fill="none" stroke="#ff0000" stroke-width="1.2"/>
<circle cx="126.1" cy="212.3" r="2.4" fill="none" stroke="#ff0000" stroke-width="1.2"/>
<circle cx="145.7" cy="206.2" r="2.4" fill="none" stroke="#ff0000" stroke-width="1.2"/>
<circle cx="165.3" cy="204.8" r="2.4" fill="none" stroke="#ff0000" stroke-width="1.2"/>
<circle cx="184.9" cy="204.2" r="2.4" fill="none" stroke="#ff0000" stroke-width="1.2"/>
<circle cx="204.5" cy="203.9" r="2.4" fill="none" stroke="#ff0000" stroke-width="1.2"/>
<polyline points="28.1,286.6 47.7,279.9 67.3,277.4 77.1,279.4 86.9,283.9 106.5,297.9 126.1,314.2 145.7,315 165.3,315 184.9,315 204.5,315" fill="none" stroke="#0000ff" stroke-width="1.6" stroke-linejoin="round"/>
<circle cx="28.1" cy="286.6" r="2.8" fill="#0000ff"/>
<circle cx="47.7" cy="279.9" r="2.8" fill="#0000ff"/>
<circle cx="67.3" cy="277.4" r="2.8" fill="#0000ff"/>
<circle cx="77.1" cy="279.4" r="2.8" fill="#0000ff"/>
<circle cx="86.9" cy="283.9" r="2.8" fill="#0000ff"/>
<circle cx="106.5" cy="297.9" r="2.8" fill="#0000ff"/>
<circle cx="126.1" cy="314.2" r="2.8" fill="#0000ff"/>
<circle cx="145.7" cy="315" r="2.8" fill="#0000ff"/>
<circle cx="165.3" cy="315" r="2.8" fill="#0000ff"/>
<circle cx="184.9" cy="315" r="2.8" fill="#0000ff"/>
<circle cx="204.5" cy="315" r="2.8" fill="#0000ff"/>
<polyline points="28.1,303.7 47.7,303.3 67.3,302.8 77.1,303 86.9,303.7 106.5,308.2 126.1,312.2 145.7,313.4 165.3,313.7 184.9,313.8 204.5,313.9" fill="none" stroke="#800080" stroke-width="1.6" stroke-linejoin="round"/>
<circle cx="28.1" cy="303.7" r="2.8" fill="#800080"/>
<circle cx="47.7" cy="303.3" r="2.8" fill="#800080"/>
<circle cx="67.3" cy="302.8" r="2.8" fill="#800080"/>
<circle cx="77.1" cy="303" r="2.8" fill="#800080"/>
<circle cx="86.9" cy="303.7" r="2.8" fill="#800080"/>
<circle cx="106.5" cy="308.2" r="2.8" fill="#800080"/>
<circle cx="126.1" cy="312.2" r="2.8" fill="#800080"/>
<circle cx="145.7" cy="313.4" r="2.8" fill="#800080"/>
<circle cx="165.3" cy="313.7" r="2.8" fill="#800080"/>
<circle cx="184.9" cy="313.8" r="2.8" fill="#800080"/>
<circle cx="204.5" cy="313.9" r="2.8" fill="#800080"/>
<polyline points="28.1,273 47.7,272.1 67.3,273.4 77.1,275.4 86.9,279.4 106.5,291.1 126.1,303.9 145.7,309.2 165.3,309.7 184.9,310 204.5,310.4" fill="none" stroke="#ffa500" stroke-width="1.6" stroke-linejoin="round"/>
<circle cx="28.1" cy="273" r="2.8" fill="#ffa500"/>
<circle cx="47.7" cy="272.1" r="2.8" fill="#ffa500"/>
<circle cx="67.3" cy="273.4" r="2.8" fill="#ffa500"/>
<circle cx="77.1" cy="275.4" r="2.8" fill="#ffa500"/>
<circle cx="86.9" cy="279.4" r="2.8" fill="#ffa500"/>
<circle cx="106.5" cy="291.1" r="2.8" fill="#ffa500"/>
<circle cx="126.1" cy="303.9" r="2.8" fill="#ffa500"/>
<circle cx="145.7" cy="309.2" r="2.8" fill="#ffa500"/>
<circle cx="165.3" cy="309.7" r="2.8" fill="#ffa500"/>
<circle cx="184.9" cy="310" r="2.8" fill="#ffa500"/>
<circle cx="204.5" cy="310.4" r="2.8" fill="#ffa500"/>
<polyline points="28.1,233.7 47.7,225.1 67.3,222.5 77.1,227.1 86.9,236.2 106.5,266.6 126.1,300.3 145.7,306.6 165.3,307.2 184.9,307.9 204.5,308.9" fill="none" stroke="#000080" stroke-width="1.6" stroke-linejoin="round"/>
<circle cx="28.1" cy="233.7" r="2.8" fill="#000080"/>
<circle cx="47.7" cy="225.1" r="2.8" fill="#000080"/>
<circle cx="67.3" cy="222.5" r="2.8" fill="#000080"/>
<circle cx="77.1" cy="227.1" r="2.8" fill="#000080"/>
<circle cx="86.9" cy="236.2" r="2.8" fill="#000080"/>
<circle cx="106.5" cy="266.6" r="2.8" fill="#000080"/>
<circle cx="126.1" cy="300.3" r="2.8" fill="#000080"/>
<circle cx="145.7" cy="306.6" r="2.8" fill="#000080"/>
<circle cx="165.3" cy="307.2" r="2.8" fill="#000080"/>
<circle cx="184.9" cy="307.9" r="2.8" fill="#000080"/>
<circle cx="204.5" cy="308.9" r="2.8" fill="#000080"/>
<path d="M37.4,244.4 L44.8,240.9 L43.6,242.9 L77.4,242.9 L77.4,245.9 L43.6,245.9 L44.8,247.9 Z" fill="#000080"/>
<path d="M155.5,213.3 L188.4,213.3 L188.4,211.7 L195,214.9 L188.4,218.1 L188.4,216.5 L155.5,216.5 Z" fill="none" stroke="#ff0000" stroke-width="1"/>
</g>
<line x1="47.7" y1="315" x2="47.7" y2="311.1" stroke="#000" stroke-width="1.6" />
<line x1="47.7" y1="197.2" x2="47.7" y2="201.1" stroke="#000" stroke-width="1.6" />
<line x1="67.3" y1="315" x2="67.3" y2="311.1" stroke="#000" stroke-width="1.6" />
<line x1="67.3" y1="197.2" x2="67.3" y2="201.1" stroke="#000" stroke-width="1.6" />
<line x1="86.9" y1="315" x2="86.9" y2="311.1" stroke="#000" stroke-width="1.6" />
<line x1="86.9" y1="197.2" x2="86.9" y2="201.1" stroke="#000" stroke-width="1.6" />
<line x1="106.5" y1="315" x2="106.5" y2="311.1" stroke="#000" stroke-width="1.6" />
<line x1="106.5" y1="197.2" x2="106.5" y2="201.1" stroke="#000" stroke-width="1.6" />
<line x1="126.1" y1="315" x2="126.1" y2="311.1" stroke="#000" stroke-width="1.6" />
<line x1="126.1" y1="197.2" x2="126.1" y2="201.1" stroke="#000" stroke-width="1.6" />
<line x1="145.7" y1="315" x2="145.7" y2="311.1" stroke="#000" stroke-width="1.6" />
<line x1="145.7" y1="197.2" x2="145.7" y2="201.1" stroke="#000" stroke-width="1.6" />
<line x1="165.3" y1="315" x2="165.3" y2="311.1" stroke="#000" stroke-width="1.6" />
<line x1="165.3" y1="197.2" x2="165.3" y2="201.1" stroke="#000" stroke-width="1.6" />
<line x1="184.9" y1="315" x2="184.9" y2="311.1" stroke="#000" stroke-width="1.6" />
<line x1="184.9" y1="197.2" x2="184.9" y2="201.1" stroke="#000" stroke-width="1.6" />
<line x1="28.1" y1="256.1" x2="32" y2="256.1" stroke="#000" stroke-width="1.6" />
<line x1="204.5" y1="256.1" x2="200.6" y2="256.1" stroke="#000" stroke-width="1.6" />
<rect x="28.1" y="197.2" width="176.4" height="117.8" fill="none" stroke="#000" stroke-width="2.2"/>
<text x="28.1" y="328.4" font-size="15" text-anchor="middle" >0</text>
<text x="86.9" y="328.4" font-size="15" text-anchor="middle" >3</text>
<text x="145.7" y="328.4" font-size="15" text-anchor="middle" >6</text>
<text x="204.5" y="328.4" font-size="15" text-anchor="middle" >9</text>
<text x="25.6" y="320.2" font-size="15" text-anchor="end" >0.0</text>
<text x="25.6" y="202.4" font-size="15" text-anchor="end" >0.2</text>
<text x="207.3" y="320.2" font-size="15" text-anchor="start" >0.8</text>
<text x="207.3" y="202.4" font-size="15" text-anchor="start" >1.0</text>
<text x="116.3" y="344" font-size="16" text-anchor="middle" ><tspan font-style="italic">U</tspan><tspan font-size="11" dy="2.3">Ni</tspan><tspan dy="-2.3"> (eV)</tspan></text>
<text transform="translate(18.4,264.2) rotate(-90)" font-size="18.5"><tspan font-style="italic">N</tspan><tspan font-size="12.5" dy="3" font-style="italic">α</tspan></text>
<text x="8.5" y="186.3" font-size="21" text-anchor="start" letter-spacing="0.4">(<tspan font-weight="bold" font-size="18.5">d</tspan>)</text>
<line x1="121" y1="227.2" x2="130.4" y2="227.2" stroke="#ff0000" stroke-width="1.6" />
<circle cx="125.7" cy="227.2" r="2.4" fill="none" stroke="#ff0000" stroke-width="1.2"/>
<text x="137.9" y="229.6" font-size="10.5" text-anchor="start" >Ni <tspan font-style="italic">d</tspan><tspan font-size="7" dy="2" font-style="italic">x</tspan><tspan font-size="5.5" dy="-3">2</tspan><tspan font-size="7" dy="3">−</tspan><tspan font-size="7" font-style="italic">y</tspan><tspan font-size="5.5" dy="-3">2</tspan></text>
<line x1="121" y1="241.5" x2="130.4" y2="241.5" stroke="#0000ff" stroke-width="1.6" />
<circle cx="125.7" cy="241.5" r="2.8" fill="#0000ff"/>
<text x="137.9" y="243.9" font-size="10.5" text-anchor="start" >Nd <tspan font-style="italic">d</tspan><tspan font-size="7" dy="2">3</tspan><tspan font-size="7" font-style="italic">z</tspan><tspan font-size="5.5" dy="-3">2</tspan><tspan font-size="7" dy="3">−</tspan><tspan font-size="7" font-style="italic">r</tspan><tspan font-size="5.5" dy="-3">2</tspan></text>
<line x1="121" y1="255.8" x2="130.4" y2="255.8" stroke="#800080" stroke-width="1.6" />
<circle cx="125.7" cy="255.8" r="2.8" fill="#800080"/>
<text x="137.9" y="258.2" font-size="10.5" text-anchor="start" >Nd <tspan font-style="italic">d</tspan><tspan font-size="7" dy="2" font-style="italic">xy</tspan></text>
<line x1="121" y1="270.1" x2="130.4" y2="270.1" stroke="#ffa500" stroke-width="1.6" />
<circle cx="125.7" cy="270.1" r="2.8" fill="#ffa500"/>
<text x="137.9" y="272.5" font-size="10.5" text-anchor="start" >interstitial <tspan font-style="italic">s</tspan></text>
<line x1="121" y1="284.4" x2="130.4" y2="284.4" stroke="#000080" stroke-width="1.6" />
<circle cx="125.7" cy="284.4" r="2.8" fill="#000080"/>
<text x="137.9" y="286.8" font-size="10.5" text-anchor="start" ><tspan font-style="italic">d</tspan><tspan font-size="7" dy="2">3</tspan><tspan font-size="7" font-style="italic">z</tspan><tspan font-size="5.5" dy="-3">2</tspan><tspan font-size="7" dy="3">−</tspan><tspan font-size="7" font-style="italic">r</tspan><tspan font-size="5.5" dy="-3">2</tspan><tspan dy="1" dx="1.5">+</tspan><tspan font-style="italic" dx="1.5">d</tspan><tspan font-size="7" dy="2" font-style="italic">xy</tspan><tspan dy="-2" dx="1.5">+</tspan><tspan font-style="italic" dx="1.5">s</tspan></text>
<clipPath id="ce"><rect x="261.2" y="197.2" width="176.4" height="117.8"/></clipPath>
<g clip-path="url(#ce)">
<polyline points="267.67,313.2 274.96,313.2 288.13,313.2 294.95,313.2 315.41,313.2 329.64,313.2 352.34,313.2 374.92,313.2 397.97,313.2 412.9,313.2 431.84,313.2" fill="none" stroke="#8b4513" stroke-width="1.6" stroke-linejoin="round"/>
<circle cx="267.67" cy="313.1" r="2.8" fill="#8b4513"/>
<circle cx="274.96" cy="313.1" r="2.8" fill="#8b4513"/>
<circle cx="288.13" cy="313.1" r="2.8" fill="#8b4513"/>
<circle cx="294.95" cy="313.1" r="2.8" fill="#8b4513"/>
<circle cx="315.41" cy="313.1" r="2.8" fill="#8b4513"/>
<circle cx="329.64" cy="313.1" r="2.8" fill="#8b4513"/>
<circle cx="352.34" cy="313.1" r="2.8" fill="#8b4513"/>
<circle cx="374.92" cy="313.1" r="2.8" fill="#8b4513"/>
<circle cx="397.97" cy="313.1" r="2.8" fill="#8b4513"/>
<circle cx="412.9" cy="313.1" r="2.8" fill="#8b4513"/>
<circle cx="431.84" cy="313.1" r="2.8" fill="#8b4513"/>
<circle cx="268.3" cy="202.7" r="2.8" fill="#1e90ff"/>
<circle cx="275.1" cy="258.8" r="2.8" fill="#1e90ff"/>
<circle cx="288.2" cy="287" r="2.8" fill="#1e90ff"/>
<circle cx="306.7" cy="298.3" r="2.8" fill="#1e90ff"/>
<circle cx="315.5" cy="301.2" r="2.8" fill="#1e90ff"/>
<circle cx="329.7" cy="304" r="2.8" fill="#1e90ff"/>
<circle cx="352.4" cy="306.8" r="2.8" fill="#1e90ff"/>
<circle cx="398.1" cy="309.7" r="2.8" fill="#1e90ff"/>
<circle cx="413" cy="310.1" r="2.8" fill="#1e90ff"/>
<circle cx="432" cy="310.9" r="2.8" fill="#1e90ff"/>
<polyline points="267.08,178.2 267.94,196.73 268.79,210.84 269.65,221.94 270.51,230.91 271.36,238.3 272.22,244.49 273.08,249.76 273.94,254.3 274.79,258.24 275.65,261.71 276.51,264.77 277.36,267.51 278.22,269.96 279.08,272.17 279.93,274.17 280.79,275.99 281.65,277.66 282.5,279.19 283.36,280.6 284.22,281.91 285.07,283.12 285.93,284.24 286.79,285.29 287.65,286.26 288.5,287.18 289.36,288.04 290.22,288.85 291.07,289.61 291.93,290.33 292.79,291 293.64,291.65 294.5,292.25 295.36,292.83 296.21,293.38 297.07,293.9 297.93,294.4 298.78,294.88 299.64,295.33 300.5,295.76 301.36,296.18 302.21,296.57 303.07,296.96 303.93,297.32 304.78,297.67 305.64,298.01 306.5,298.33 307.35,298.65 308.21,298.95 309.07,299.24 309.92,299.52 310.78,299.79 311.64,300.05 312.49,300.3 313.35,300.54 314.21,300.78 315.07,301.01 315.92,301.23 316.78,301.44 317.64,301.65 318.49,301.85 319.35,302.04 320.21,302.23 321.06,302.42 321.92,302.6 322.78,302.77 323.63,302.94 324.49,303.1 325.35,303.26 326.21,303.42 327.06,303.57 327.92,303.72 328.78,303.86 329.63,304 330.49,304.14 331.35,304.27 332.2,304.4 333.06,304.53 333.92,304.65 334.77,304.78 335.63,304.89 336.49,305.01 337.34,305.12 338.2,305.23 339.06,305.34 339.92,305.45 340.77,305.55 341.63,305.65 342.49,305.75 343.34,305.85 344.2,305.94 345.06,306.04 345.91,306.13 346.77,306.22 347.63,306.3 348.48,306.39 349.34,306.47 350.2,306.56 351.05,306.64 351.91,306.72 352.77,306.79 353.63,306.87 354.48,306.94 355.34,307.02 356.2,307.09 357.05,307.16 357.91,307.23 358.77,307.3 359.62,307.37 360.48,307.43 361.34,307.5 362.19,307.56 363.05,307.63 363.91,307.69 364.76,307.75 365.62,307.81 366.48,307.87 367.34,307.92 368.19,307.98 369.05,308.04 369.91,308.09 370.76,308.15 371.62,308.2 372.48,308.25 373.33,308.3 374.19,308.36 375.05,308.41 375.9,308.45 376.76,308.5 377.62,308.55 378.47,308.6 379.33,308.65 380.19,308.69 381.05,308.74 381.9,308.78 382.76,308.83 383.62,308.87 384.47,308.91 385.33,308.95 386.19,308.99 387.04,309.04 387.9,309.08 388.76,309.12 389.61,309.16 390.47,309.19 391.33,309.23 392.19,309.27 393.04,309.31 393.9,309.35 394.76,309.38 395.61,309.42 396.47,309.45 397.33,309.49 398.18,309.52 399.04,309.56 399.9,309.59 400.75,309.62 401.61,309.66 402.47,309.69 403.32,309.72 404.18,309.75 405.04,309.78 405.9,309.82 406.75,309.85 407.61,309.88 408.47,309.91 409.32,309.94 410.18,309.96 411.04,309.99 411.89,310.02 412.75,310.05 413.61,310.08 414.46,310.11 415.32,310.13 416.18,310.16 417.03,310.19 417.89,310.21 418.75,310.24 419.61,310.27 420.46,310.29 421.32,310.32 422.18,310.34 423.03,310.37 423.89,310.39 424.75,310.41 425.6,310.44 426.46,310.46 427.32,310.49 428.17,310.51 429.03,310.53 429.89,310.55 430.74,310.58 431.6,310.6 432.46,310.62 433.32,310.64 434.17,310.66 435.03,310.69 435.89,310.71 436.74,310.73 437.6,310.75" fill="none" stroke="#000" stroke-width="1.5" stroke-dasharray="5,2.7"/>
</g>
<line x1="290.6" y1="315" x2="290.6" y2="311.1" stroke="#000" stroke-width="1.6" />
<line x1="290.6" y1="197.2" x2="290.6" y2="201.1" stroke="#000" stroke-width="1.6" />
<line x1="320" y1="315" x2="320" y2="311.1" stroke="#000" stroke-width="1.6" />
<line x1="320" y1="197.2" x2="320" y2="201.1" stroke="#000" stroke-width="1.6" />
<line x1="349.4" y1="315" x2="349.4" y2="311.1" stroke="#000" stroke-width="1.6" />
<line x1="349.4" y1="197.2" x2="349.4" y2="201.1" stroke="#000" stroke-width="1.6" />
<line x1="378.8" y1="315" x2="378.8" y2="311.1" stroke="#000" stroke-width="1.6" />
<line x1="378.8" y1="197.2" x2="378.8" y2="201.1" stroke="#000" stroke-width="1.6" />
<line x1="408.2" y1="315" x2="408.2" y2="311.1" stroke="#000" stroke-width="1.6" />
<line x1="408.2" y1="197.2" x2="408.2" y2="201.1" stroke="#000" stroke-width="1.6" />
<line x1="261.2" y1="291.44" x2="265.1" y2="291.44" stroke="#000" stroke-width="1.6" />
<line x1="437.6" y1="291.44" x2="433.7" y2="291.44" stroke="#000" stroke-width="1.6" />
<line x1="261.2" y1="267.88" x2="265.1" y2="267.88" stroke="#000" stroke-width="1.6" />
<line x1="437.6" y1="267.88" x2="433.7" y2="267.88" stroke="#000" stroke-width="1.6" />
<line x1="261.2" y1="244.32" x2="265.1" y2="244.32" stroke="#000" stroke-width="1.6" />
<line x1="437.6" y1="244.32" x2="433.7" y2="244.32" stroke="#000" stroke-width="1.6" />
<line x1="261.2" y1="220.76" x2="265.1" y2="220.76" stroke="#000" stroke-width="1.6" />
<line x1="437.6" y1="220.76" x2="433.7" y2="220.76" stroke="#000" stroke-width="1.6" />
<rect x="261.2" y="197.2" width="176.4" height="117.8" fill="none" stroke="#000" stroke-width="2.2"/>
<text x="261.2" y="328.6" font-size="15" text-anchor="middle" >0</text>
<text x="320" y="328.6" font-size="15" text-anchor="middle" >500</text>
<text x="378.8" y="328.6" font-size="15" text-anchor="middle" >1000</text>
<text x="437.6" y="328.6" font-size="15" text-anchor="middle" >1500</text>
<text x="259" y="320.2" font-size="15" text-anchor="end" >0</text>
<text x="259" y="296.64" font-size="15" text-anchor="end" >10</text>
<text x="259" y="273.08" font-size="15" text-anchor="end" >20</text>
<text x="259" y="249.52" font-size="15" text-anchor="end" >30</text>
<text x="259" y="225.96" font-size="15" text-anchor="end" >40</text>
<text x="259" y="202.4" font-size="15" text-anchor="end" >50</text>
<text x="349.4" y="344" font-size="16" text-anchor="middle" ><tspan font-style="italic">T</tspan>(K)</text>
<text x="232.6" y="183.9" font-size="21" text-anchor="start" letter-spacing="0.4">(<tspan font-weight="bold" font-size="18.5">e</tspan>)</text>
<g transform="translate(238.3,303.2) rotate(-90)"><text x="0.5" y="0" font-size="14" font-style="italic">χ</text><text x="9.3" y="3.2" font-size="8.5" font-style="italic" textLength="11" lengthAdjust="spacingAndGlyphs">loc</text><text x="9.3" y="-5.2" font-size="8.5" textLength="11" lengthAdjust="spacingAndGlyphs"><tspan font-style="italic">ω</tspan>=0</text><text x="24.2" y="0" font-size="13.5" >(<tspan font-style="italic">T</tspan>)</text><text x="44.5" y="0" font-size="13.5" >(</text><text x="49.5" y="0" font-size="13.5" font-style="italic">μ</text><text x="56.2" y="3.2" font-size="8.5" font-style="italic">B</text><text x="56.4" y="-5.2" font-size="8.5" >2</text><text x="61.8" y="0" font-size="12.8" textLength="13.6" lengthAdjust="spacingAndGlyphs">eV</text><text x="75.6" y="-5.2" font-size="8.5" textLength="9.4" lengthAdjust="spacingAndGlyphs">−1</text><text x="87.6" y="0" font-size="13.5" >)</text></g>
<line x1="353.9" y1="209.4" x2="363.4" y2="209.4" stroke="#8b4513" stroke-width="1.6" />
<circle cx="358.5" cy="209.4" r="2.8" fill="#8b4513"/>
<circle cx="358.5" cy="223.1" r="2.8" fill="#1e90ff"/>
<line x1="353.9" y1="237.1" x2="363.4" y2="237.1" stroke="#000" stroke-width="1.5" stroke-dasharray="6,1.8"/>
<text x="370.7" y="211.9" font-size="10.5" text-anchor="start" textLength="42.3" lengthAdjust="spacingAndGlyphs"><tspan font-style="italic">U</tspan><tspan font-size="7" dy="1.8">Ni</tspan><tspan dy="-1.8"> = 2 eV</tspan></text>
<text x="370.7" y="225.6" font-size="10.5" text-anchor="start" textLength="42.3" lengthAdjust="spacingAndGlyphs"><tspan font-style="italic">U</tspan><tspan font-size="7" dy="1.8">Ni</tspan><tspan dy="-1.8"> = 7 eV</tspan></text>
<text x="370.7" y="239.6" font-size="10" text-anchor="start" textLength="57.6" lengthAdjust="spacingAndGlyphs">Curie-Weiss fit</text>
<clipPath id="cf"><rect x="494.5" y="197.2" width="176.4" height="117.8"/></clipPath>
<g clip-path="url(#cf)">
<path d="M501.3,270.8 C502.43,270.8 504.68,270.73 508.1,270.8 C511.52,270.87 518.38,271.03 521.8,271.2 C525.22,271.37 524,271.27 528.6,271.8 C533.2,272.33 543.72,273.58 549.4,274.4 C555.08,275.22 556.75,275.47 562.7,276.7 C568.65,277.93 577.45,280.08 585.1,281.8 C592.75,283.52 600.97,285.2 608.6,287 C616.23,288.8 624.65,291.18 630.9,292.6 C637.15,294.02 640.38,294.38 646.1,295.5 C651.82,296.62 662.02,298.67 665.2,299.3" fill="none" stroke="#8b4513" stroke-width="1.6" stroke-linejoin="round" stroke-linecap="round" />
<circle cx="501.3" cy="270.8" r="2.8" fill="#8b4513"/>
<circle cx="508.1" cy="270.8" r="2.8" fill="#8b4513"/>
<circle cx="521.8" cy="271.2" r="2.8" fill="#8b4513"/>
<circle cx="528.6" cy="271.8" r="2.8" fill="#8b4513"/>
<circle cx="549.4" cy="274.4" r="2.8" fill="#8b4513"/>
<circle cx="562.7" cy="276.7" r="2.8" fill="#8b4513"/>
<circle cx="585.1" cy="281.8" r="2.8" fill="#8b4513"/>
<circle cx="608.6" cy="287" r="2.8" fill="#8b4513"/>
<circle cx="630.9" cy="292.6" r="2.8" fill="#8b4513"/>
<circle cx="646.1" cy="295.5" r="2.8" fill="#8b4513"/>
<circle cx="665.2" cy="299.3" r="2.8" fill="#8b4513"/>
<rect x="498.6" y="198.4" width="5.2" height="5.2" fill="none" stroke="#8b4513" stroke-width="1.3"/>
<rect x="505.8" y="210.4" width="5.2" height="5.2" fill="none" stroke="#8b4513" stroke-width="1.3"/>
<rect x="519.2" y="226.8" width="5.2" height="5.2" fill="none" stroke="#8b4513" stroke-width="1.3"/>
<rect x="546.7" y="246" width="5.2" height="5.2" fill="none" stroke="#8b4513" stroke-width="1.3"/>
<rect x="560.9" y="253.2" width="5.2" height="5.2" fill="none" stroke="#8b4513" stroke-width="1.3"/>
<rect x="582.5" y="263.8" width="5.2" height="5.2" fill="none" stroke="#8b4513" stroke-width="1.3"/>
<rect x="606" y="272.5" width="5.2" height="5.2" fill="none" stroke="#8b4513" stroke-width="1.3"/>
<rect x="628.3" y="279.9" width="5.2" height="5.2" fill="none" stroke="#8b4513" stroke-width="1.3"/>
<rect x="662.6" y="289.5" width="5.2" height="5.2" fill="none" stroke="#8b4513" stroke-width="1.3"/>
<path d="M495,197.4 C496.03,198.08 498.97,198.98 501.2,201.5 C503.43,204.02 504.97,207.92 508.4,212.5 C511.83,217.08 517.37,224.33 521.8,229 C526.23,233.67 530.42,237.08 535,240.5 C539.58,243.92 544.55,246.75 549.3,249.5 C554.05,252.25 557.53,254.12 563.5,257 C569.47,259.88 577.58,263.72 585.1,266.8 C592.62,269.88 600.97,272.8 608.6,275.5 C616.23,278.2 624,280.78 630.9,283 C637.8,285.22 643.33,286.9 650,288.8 C656.67,290.7 667.42,293.47 670.9,294.4" fill="none" stroke="#000" stroke-width="1.5" stroke-dasharray="5,2.7"/>
</g>
<line x1="523.9" y1="315" x2="523.9" y2="311.1" stroke="#000" stroke-width="1.6" />
<line x1="523.9" y1="197.2" x2="523.9" y2="201.1" stroke="#000" stroke-width="1.6" />
<line x1="553.3" y1="315" x2="553.3" y2="311.1" stroke="#000" stroke-width="1.6" />
<line x1="553.3" y1="197.2" x2="553.3" y2="201.1" stroke="#000" stroke-width="1.6" />
<line x1="582.7" y1="315" x2="582.7" y2="311.1" stroke="#000" stroke-width="1.6" />
<line x1="582.7" y1="197.2" x2="582.7" y2="201.1" stroke="#000" stroke-width="1.6" />
<line x1="612.1" y1="315" x2="612.1" y2="311.1" stroke="#000" stroke-width="1.6" />
<line x1="612.1" y1="197.2" x2="612.1" y2="201.1" stroke="#000" stroke-width="1.6" />
<line x1="641.5" y1="315" x2="641.5" y2="311.1" stroke="#000" stroke-width="1.6" />
<line x1="641.5" y1="197.2" x2="641.5" y2="201.1" stroke="#000" stroke-width="1.6" />
<line x1="494.5" y1="256.1" x2="498.4" y2="256.1" stroke="#000" stroke-width="1.6" />
<line x1="670.9" y1="256.1" x2="667" y2="256.1" stroke="#000" stroke-width="1.6" />
<rect x="494.5" y="197.2" width="176.4" height="117.8" fill="none" stroke="#000" stroke-width="2.2"/>
<text x="494.5" y="328.6" font-size="15" text-anchor="middle" >0</text>
<text x="553.3" y="328.6" font-size="15" text-anchor="middle" >500</text>
<text x="612.1" y="328.6" font-size="15" text-anchor="middle" >1000</text>
<text x="670.9" y="328.6" font-size="15" text-anchor="middle" >1500</text>
<text x="492" y="320.2" font-size="15" text-anchor="end" >0.6</text>
<text x="492" y="261.3" font-size="15" text-anchor="end" >1.2</text>
<text x="492" y="202.4" font-size="15" text-anchor="end" >1.8</text>
<text x="582.7" y="344" font-size="16" text-anchor="middle" ><tspan font-style="italic">T</tspan>(K)</text>
<text x="582.7" y="191.9" font-size="16" text-anchor="middle" ><tspan font-style="italic">U</tspan><tspan font-size="11" dy="2.3">Ni</tspan><tspan dy="-2.3"> = 2 eV</tspan></text>
<text x="465.6" y="183" font-size="21" text-anchor="start" letter-spacing="0.4">(<tspan font-weight="bold" font-size="18.5">f</tspan>)</text>
<g transform="translate(468,303.2) rotate(-90)"><text x="0.5" y="0" font-size="14" font-style="italic">χ</text><text x="9.3" y="3.2" font-size="8.5" font-style="italic" textLength="11" lengthAdjust="spacingAndGlyphs">loc</text><text x="9.3" y="-5.2" font-size="8.5" textLength="11" lengthAdjust="spacingAndGlyphs"><tspan font-style="italic">ω</tspan>=0</text><text x="24.2" y="0" font-size="13.5" >(<tspan font-style="italic">T</tspan>)</text><text x="44.5" y="0" font-size="13.5" >(</text><text x="49.5" y="0" font-size="13.5" font-style="italic">μ</text><text x="56.2" y="3.2" font-size="8.5" font-style="italic">B</text><text x="56.4" y="-5.2" font-size="8.5" >2</text><text x="61.8" y="0" font-size="12.8" textLength="13.6" lengthAdjust="spacingAndGlyphs">eV</text><text x="75.6" y="-5.2" font-size="8.5" textLength="9.4" lengthAdjust="spacingAndGlyphs">−1</text><text x="87.6" y="0" font-size="13.5" >)</text></g>
<line x1="559.5" y1="210" x2="569.1" y2="210" stroke="#8b4513" stroke-width="1.6" />
<circle cx="564.3" cy="210" r="2.8" fill="#8b4513"/>
<rect x="561.5" y="221" width="5.6" height="5.6" fill="none" stroke="#8b4513" stroke-width="1.3"/>
<line x1="559.8" y1="237.4" x2="568.7" y2="237.4" stroke="#000" stroke-width="1.5" stroke-dasharray="6,1.8"/>
<text x="576.7" y="212.8" font-size="10" text-anchor="start" textLength="71.9" lengthAdjust="spacingAndGlyphs">with hybridization</text>
<text x="576.7" y="226.6" font-size="10" text-anchor="start" textLength="85.1" lengthAdjust="spacingAndGlyphs">without hybridization</text>
<text x="576.7" y="240.2" font-size="10" text-anchor="start" textLength="57" lengthAdjust="spacingAndGlyphs">Curie-Weiss fit</text>
</svg>
</body></html>
